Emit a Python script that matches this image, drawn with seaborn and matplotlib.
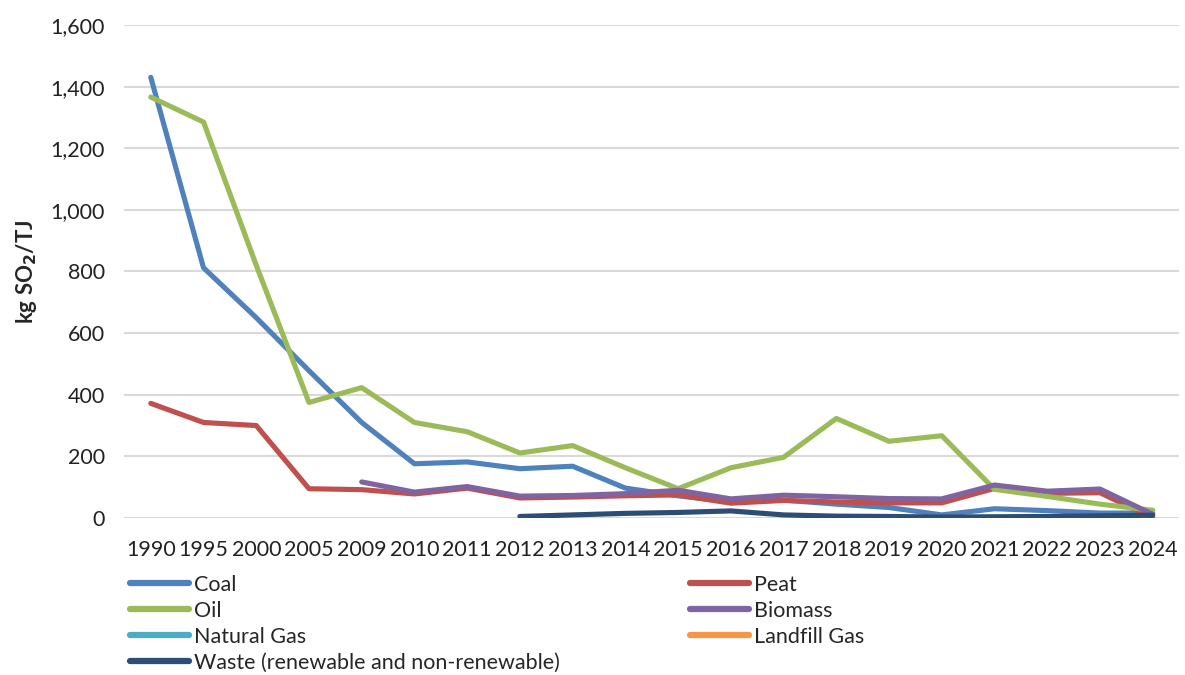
import numpy as np
import pandas as pd
import matplotlib.pyplot as plt
from matplotlib.lines import Line2D
import seaborn as sns

sns.set_theme(style='whitegrid')
plt.rcParams['font.family'] = ['Lato', 'DejaVu Sans']

nan = np.nan
years = ['1990', '1995', '2000', '2005', '2009', '2010', '2011', '2012', '2013', '2014',
         '2015', '2016', '2017', '2018', '2019', '2020', '2021', '2022', '2023', '2024']

coal = [1430, 812, 650, 478, 310, 176, 182, 160, 168, 97, 72, 52, 58, 45, 34, 10, 30, 24, 16, 16]
peat = [372, 310, 300, 95, 92, 78, 97, 65, 68, 72, 75, 48, 57, 52, 49, 49, 96, 80, 82, 0]
oil = [1366, 1285, 820, 375, 423, 310, 280, 211, 235, 163, 95, 163, 197, 323, 249, 267, 93, 70, 45, 25]
biomass = [nan, nan, nan, nan, 117, 84, 102, 71, 73, 79, 90, 62, 74, 69, 63, 62, 107, 87, 94, 12]
natural_gas = [nan] * 20
landfill_gas = [nan] * 20
waste = [nan, nan, nan, nan, nan, nan, nan, 5, 10, 15, 18, 23, 10, 6, 5, 3, 4, 5, 7, 9]

series = {
    'Coal': coal,
    'Peat': peat,
    'Oil': oil,
    'Biomass': biomass,
    'Natural Gas': natural_gas,
    'Landfill Gas': landfill_gas,
    'Waste (renewable and non-renewable)': waste,
}
colors = {
    'Coal': '#4F81BD',
    'Peat': '#C0504D',
    'Oil': '#9BBB59',
    'Biomass': '#8064A2',
    'Natural Gas': '#4BACC6',
    'Landfill Gas': '#F79646',
    'Waste (renewable and non-renewable)': '#2C4D75',
}

df = pd.DataFrame(series)
df['Year'] = years
long = df.melt(id_vars='Year', var_name='Fuel', value_name='Value').dropna()

fig = plt.figure(figsize=(11.85, 6.75), dpi=100)
ax = fig.add_axes([0.105, 0.2326, 0.89, 0.7304])

for name in series:
    sub = long[long['Fuel'] == name]
    if len(sub) == 0:
        continue
    sns.lineplot(data=sub, x='Year', y='Value', color=colors[name], lw=3.7,
                 sort=False, ax=ax, legend=False, solid_capstyle='round')

ax.set_xlim(-0.5, len(years) - 0.5)
ax.set_ylim(0, 1600)
ax.set_yticks(range(0, 1601, 200))
ax.yaxis.set_major_formatter(plt.FuncFormatter(lambda v, p: f'{int(v):,}'))
ax.grid(axis='x', visible=False)
ax.grid(axis='y', color='#D9D9D9', lw=1.5)
for s in ax.spines.values():
    s.set_visible(False)
ax.tick_params(axis='both', labelsize=15.5, colors='#222222', length=0)
ax.tick_params(axis='x', pad=16)
ax.tick_params(axis='y', pad=14)
ax.set_xlabel('')
ax.set_ylabel(r'kg SO$_\mathbf{2}$/TJ', fontsize=16, fontweight='bold', labelpad=8)

order1 = ['Coal', 'Oil', 'Natural Gas', 'Waste (renewable and non-renewable)']
order2 = ['Peat', 'Biomass', 'Landfill Gas']
for order, xpos in [(order1, 130 / 1185), (order2, 690 / 1185)]:
    handles = [Line2D([], [], color=colors[n], lw=4.5, solid_capstyle='round') for n in order]
    fig.legend(handles, order, loc='upper left', bbox_to_anchor=(xpos, 1 - 575 / 675),
               frameon=False, fontsize=15.5, handlelength=2.75, handletextpad=0.2,
               labelspacing=0.27, borderaxespad=0, borderpad=0)

fig.savefig('out.png', dpi=100, facecolor='white')
